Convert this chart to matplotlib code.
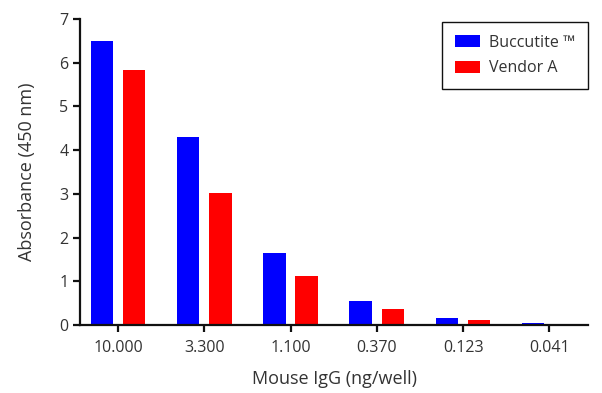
import matplotlib.pyplot as plt
import numpy as np

plt.rcParams['font.family'] = ['Open Sans', 'DejaVu Sans']

doses = ["10.000", "3.300", "1.100", "0.370", "0.123", "0.041"]
buccutite = [6.5, 4.3, 1.65, 0.56, 0.17, 0.05]
vendor_a = [5.82, 3.02, 1.12, 0.37, 0.11, 0.02]

fig = plt.figure(figsize=(6.02, 3.93), dpi=100)
ax = fig.add_axes([0.133, 0.173, 0.844, 0.779])

x = np.arange(len(doses))
w = 0.26
ax.bar(x - 0.187, buccutite, w, color="#0000FF", label="Buccutite \u2122")
ax.bar(x + 0.187, vendor_a, w, color="#FF0000", label="Vendor A")

ax.set_xlim(-0.44, 5.45)
ax.set_ylim(0, 7)
ax.set_xticks(x)
ax.set_xticklabels(doses)
ax.set_yticks(range(8))

for s in ["top", "right"]:
    ax.spines[s].set_visible(False)
for s in ["left", "bottom"]:
    ax.spines[s].set_linewidth(1.6)
    ax.spines[s].set_color("#111111")
ax.tick_params(width=1.6, length=5, labelsize=11.5, colors="#111111", labelcolor="#333333")
ax.tick_params(axis="x", pad=6)

ax.set_xlabel("Mouse IgG (ng/well)", fontsize=13, color="#333333", labelpad=10)
ax.set_ylabel("Absorbance (450 nm)", fontsize=13, color="#333333", labelpad=17)

leg = ax.legend(loc="upper right", bbox_to_anchor=(1.0, 0.99), borderaxespad=0,
                fontsize=11.5, fancybox=False, edgecolor="#111111", framealpha=1,
                handlelength=1.55, handleheight=0.8, handletextpad=0.6,
                borderpad=0.8, labelspacing=0.6)
leg.get_frame().set_linewidth(1.0)
for t in leg.get_texts():
    t.set_color("#333333")

fig.savefig("out.png", dpi=100)
